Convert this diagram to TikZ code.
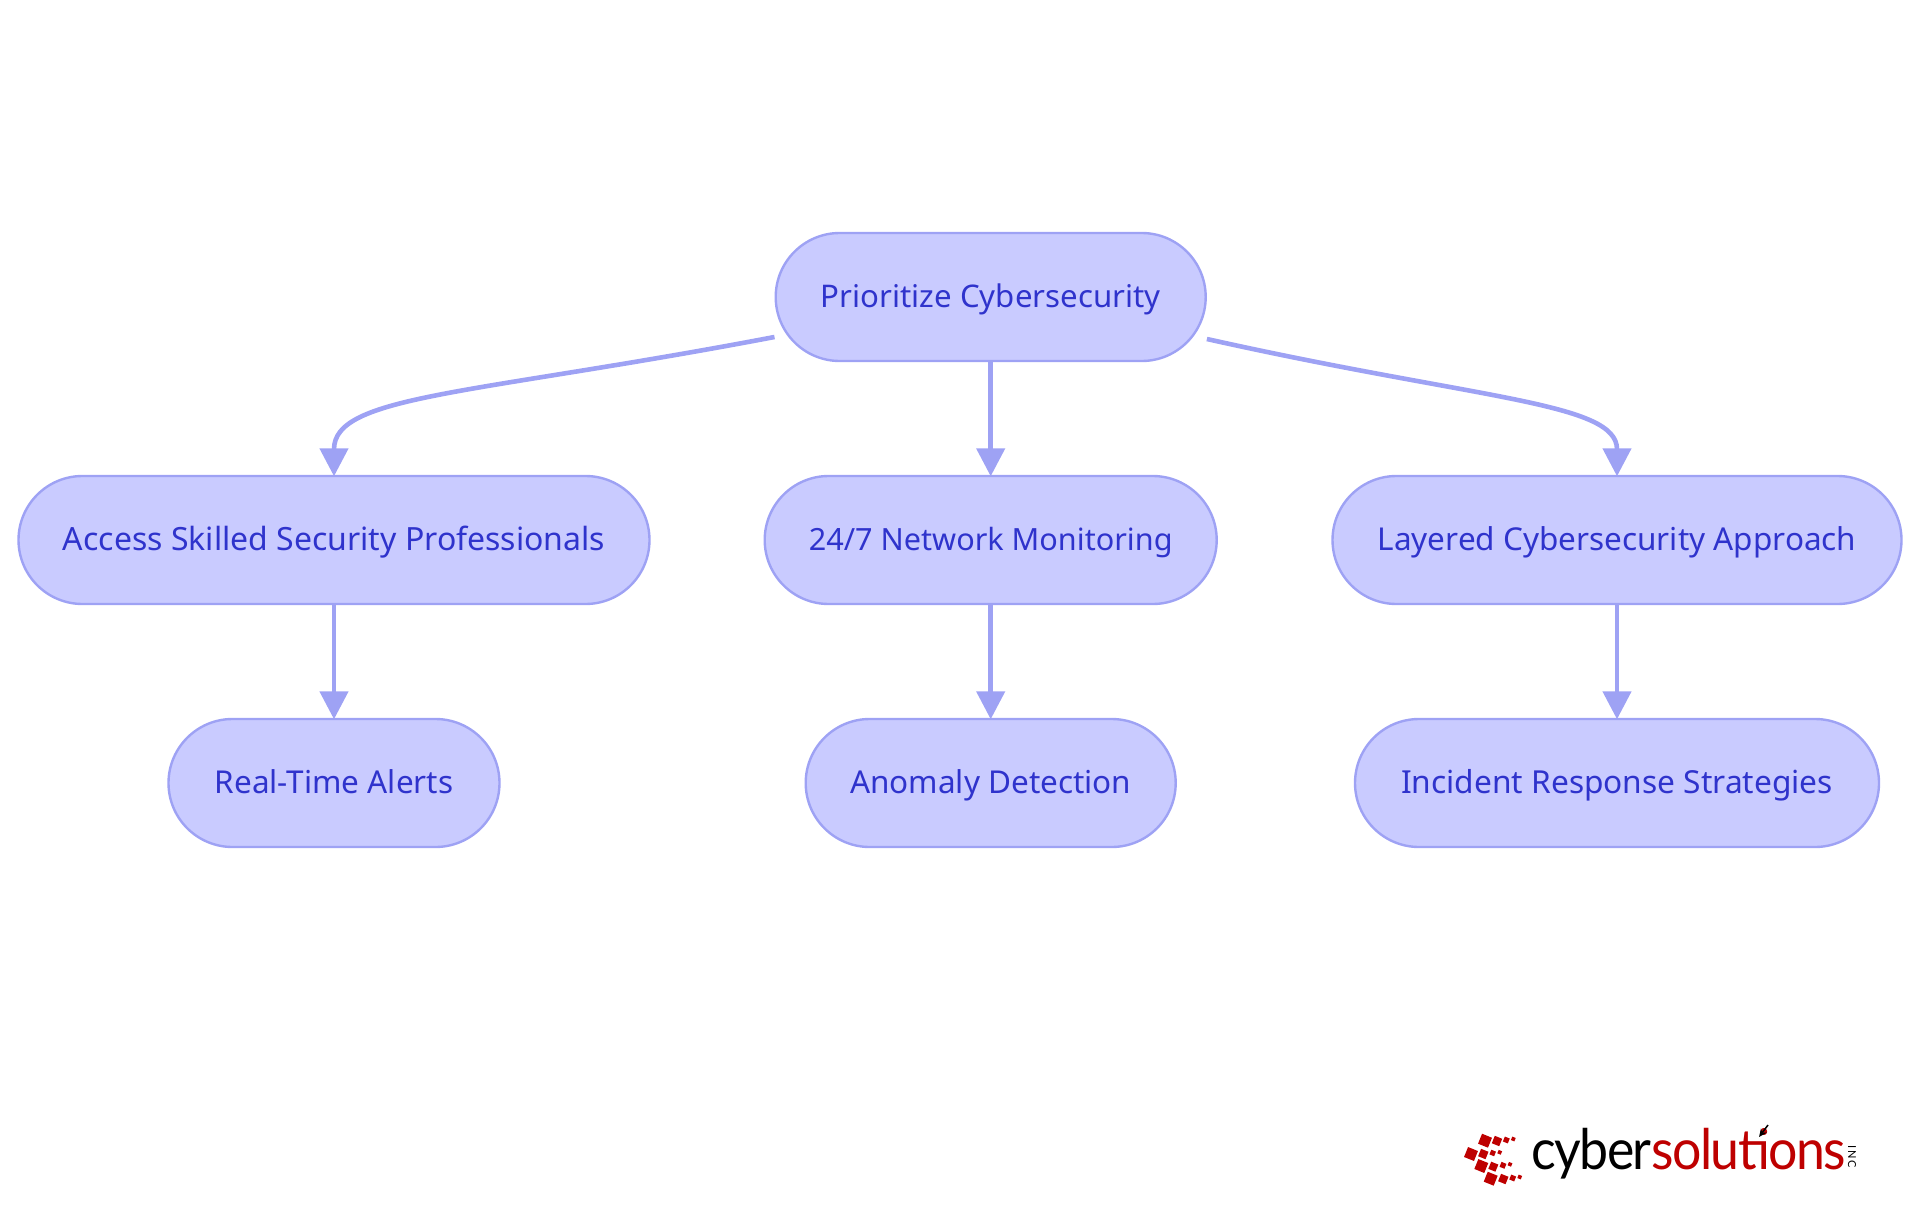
\documentclass[tikz,border=0pt]{standalone}
\usepackage{fontspec}
\usepackage{tikz}
\usetikzlibrary{arrows.meta}
\setmainfont{Noto Sans}
\newfontfamily\logofont{Lato}
\definecolor{nodefill}{HTML}{C9CBFF}
\definecolor{nodeline}{HTML}{9EA2F4}
\definecolor{nodetext}{HTML}{2F33CC}
\definecolor{logored}{HTML}{BE0000}
\newcommand{\labelsize}[1]{\fontsize{#1}{38}\selectfont}

\begin{document}
\begin{tikzpicture}[
            x = 1pt, y = -1pt, % one unit is one pixel of the reference
            > = {Triangle[width=28pt,length=28pt]}, % arrow head style
            node distance = 243pt, % distance between rows
            line width = 4.6pt, % line style
            shorten > = -1.5pt,
            color = nodeline
        ]

        \tikzstyle{every node}=[text = nodetext]
        \tikzstyle{flownode}=[
            draw = nodeline,
            line width = 2.4pt,
            fill = nodefill,
            rounded corners = 64pt,
            minimum height = 128pt,
            text height = 28pt,
            text depth = 8pt,
            inner xsep = 0pt,
            font = \labelsize{31.5}
        ]
        \tikzstyle{logobit}=[
            fill = logored,
            rotate = -22,
            inner sep = 0pt
        ]

        \useasboundingbox (0,0) rectangle (1920,1215);

        % top row
        \node[flownode, minimum width=430pt, font=\labelsize{31.2}] (pc) at (990.7,297) {Prioritize Cybersecurity};

        % middle row
        \node[flownode, minimum width=452pt, font=\labelsize{30.6}] (nm) [below of=pc] {24/7 Network Monitoring};
        \node[flownode, minimum width=631pt, font=\labelsize{32}] (sp) at (334,540) {Access Skilled Security Professionals};
        \node[flownode, minimum width=569pt] (lc) at (1617,540) {Layered Cybersecurity Approach};

        % bottom row
        \node[flownode, minimum width=331pt] (ra) [below of=sp] {Real-Time Alerts};
        \node[flownode, minimum width=370pt] (ad) [below of=nm] {Anomaly Detection};
        \node[flownode, minimum width=524pt, font=\labelsize{31.7}] (ir) [below of=lc] {Incident Response Strategies};

        \draw[->] ([yshift=-40pt]pc.west) .. controls (470,395) and (334,395) .. (sp.north);
        \draw[->] (pc.south) -- (nm.north);
        \draw[->] ([yshift=-42pt]pc.east) .. controls (1480,400) and (1617,402) .. (lc.north);
        \draw[->] (sp.south) -- (ra.north);
        \draw[->] (nm.south) -- (ad.north);
        \draw[->] (lc.south) -- (ir.north);

        % logo
        \foreach \px/\py/\sz [count=\i] in {
            1485/1140.7/10.7, 1497/1141/8, 1506.3/1140/5.3, 1513.3/1139/3.7,
            1471/1154/10.7, 1483.3/1154/8, 1492.7/1153/5, 1499.7/1152.3/3.7,
            1481.3/1166/10.7, 1493.3/1166.7/7.7, 1503/1165.3/5.3, 1510/1164.3/3.7,
            1490.7/1178.7/10.7, 1503.3/1179/8, 1512.7/1178/5.3, 1519.7/1177/3.7}
            \node[logobit, minimum size=\sz pt] (bit\i) at (\px,\py) {};

        \node[anchor=base west, inner sep=0pt, xscale=0.925] (logo) at (1529,1169.3)
            {\logofont\fontsize{56}{60}\selectfont\addfontfeature{LetterSpace=-3}%
             \textcolor{black}{cyber}\textcolor{logored}{solutions}};
        \node[anchor=center, inner sep=0pt, rotate=-90, text=black] (inc) at (1852,1157)
            {\logofont\fontsize{11}{12}\selectfont\addfontfeature{LetterSpace=15}INC};
        \coordinate (tail) at (1768,1125);
        \coordinate (head) at (1759,1137);
        \draw[-{Stealth[length=8pt,width=7pt]}, black, line width=1.5pt, shorten >=0pt] (tail) -- (head);

  \end{tikzpicture}
\end{document}
